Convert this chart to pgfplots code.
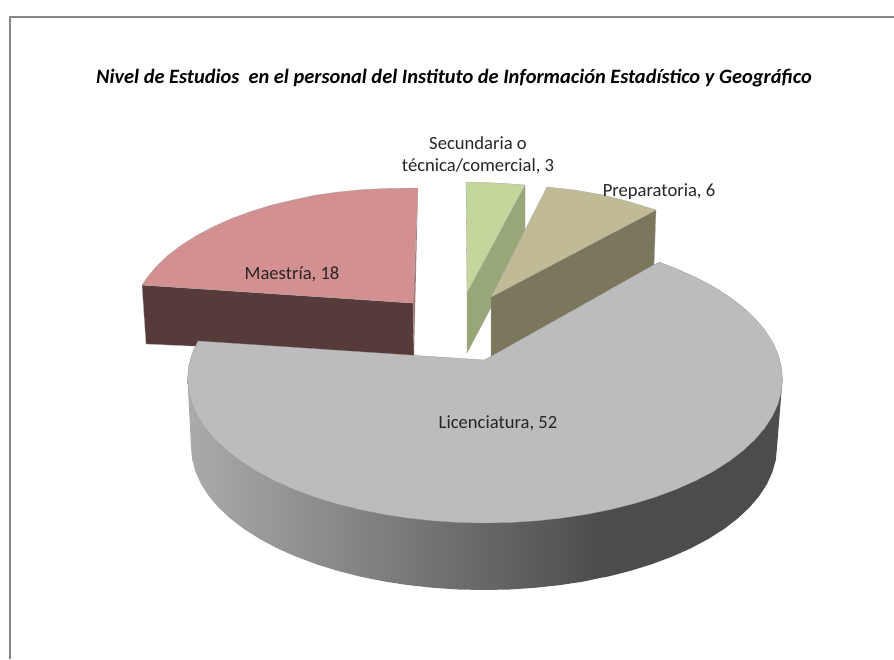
\documentclass[border=0pt]{standalone}
\usepackage{fontspec}
\setmainfont{Carlito}
\usepackage{pgfplots}
\pgfplotsset{compat=1.18}
\definecolor{frameg}{HTML}{868686}
\definecolor{grtop}{HTML}{BCBCBC}
\definecolor{mtop}{HTML}{D49090}
\definecolor{mside}{HTML}{573A3A}
\definecolor{msliv}{HTML}{A67C7C}
\definecolor{gtop}{HTML}{C3D69B}
\definecolor{gside}{HTML}{98A778}
\definecolor{ttop}{HTML}{C0BB94}
\definecolor{tside}{HTML}{7B775C}
\begin{document}
\begin{tikzpicture}
\begin{axis}[
  scale only axis, width=894pt, height=659pt,
  xmin=0, xmax=894, ymin=0, ymax=659, y dir=reverse,
  hide axis, clip=true,
]
% background and frame
\addplot[fill=white, draw=none] coordinates {(0,0)(894,0)(894,659)(0,659)} -- cycle;
\addplot[frameg, line width=1.6pt] coordinates {(10,659)(10,17)(894,17)};
% Maestria
\addplot[fill=msliv, draw=none] coordinates {(418,188)(413,303)(414,355)} -- cycle;
\addplot[fill=mside, draw=gray!60, line width=0.3pt] coordinates {(142,285)(413,303)(414,356)(146,344)} -- cycle;
\addplot[fill=mtop, draw=gray!70, line width=0.3pt] coordinates {(142,285)(147.9,276.5)(157.2,265.5)(168.5,255)(181.6,245)(196.5,235.6)(213,226.8)(231,218.8)(250.4,211.6)(271,205.2)(293,200)(315.2,195.2)(338,192)(362.4,189.6)(388,188.4)(418,188)(413,303)} -- cycle;
% Secundaria
\addplot[fill=gside, draw=gray!70, line width=0.3pt] coordinates {(525,185)(467,293)(467,353)(525,243)} -- cycle;
\addplot[fill=gtop, draw=gray!70, line width=0.3pt] coordinates {(466,182)(485,182.5)(505,183.5)(525,185)(467,293)} -- cycle;
% Preparatoria
\addplot[fill=tside, draw=gray!70, line width=0.3pt] coordinates {(656,210)(491,297)(491,357)(654,265)} -- cycle;
\addplot[fill=ttop, draw=gray!70, line width=0.3pt] coordinates {(547,187)(575,190)(603,195)(630,202)(656,210)(491,297)} -- cycle;
% Licenciatura side
\addplot[shade, left color=black!33, right color=black!70, draw=none] coordinates {(600,500)(187.5,379)(191,447)(192.1,459.5)(195.5,471.8)(201,484)(208.7,495.9)(218.5,507.4)(230.3,518.5)(244,529)(259.6,538.9)(276.8,548.1)(295.7,556.5)(315.9,564.1)(337.5,570.8)(360.2,576.6)(383.8,581.4)(408.2,585.1)(433.1,587.8)(458.5,589.5)(484,590)(509.5,589.5)(534.9,587.8)(559.8,585.1)(584.2,581.4)(600,578)} -- cycle;
\addplot[fill=black!70, draw=none] coordinates {(599.5,500)(782.5,379)(777,447)(775.9,459.5)(772.5,471.8)(767,484)(759.3,495.9)(749.5,507.4)(737.7,518.5)(724,529)(708.4,538.9)(691.2,548.1)(672.3,556.5)(652.1,564.1)(630.5,570.8)(607.8,576.6)(599.5,578)} -- cycle;
% Licenciatura top
\addplot[fill=grtop, draw=gray!80, line width=0.3pt] coordinates {(659,262)(676.2,268.7)(695.4,277.2)(712.9,286.4)(728.7,296.4)(742.6,307)(754.6,318.1)(764.6,329.8)(772.4,341.7)(778,354)(781.4,366.4)(782.5,379)(781.4,391.6)(778,404)(772.4,416.3)(764.6,428.2)(754.6,439.9)(742.6,451)(728.7,461.6)(712.9,471.6)(695.4,480.8)(676.2,489.3)(655.6,497)(633.8,503.7)(610.7,509.5)(586.7,514.3)(562,518.1)(536.6,520.8)(510.9,522.5)(485,523)(459.1,522.5)(433.4,520.8)(408,518.1)(383.3,514.3)(359.3,509.5)(336.2,503.7)(314.4,497)(293.8,489.3)(274.6,480.8)(257.1,471.6)(241.3,461.6)(227.4,451)(215.4,439.9)(205.4,428.2)(197.6,416.3)(192,404)(188.6,391.6)(187.5,379)(188.6,366.4)(192,354)(198,341)(484,360)(490,357)} -- cycle;
% Text
\node[font=\fontsize{20.4}{24}\selectfont\bfseries\itshape] at (axis cs:454,78) {Nivel de Estudios\ \ en el personal del Instituto de Información Estadístico y Geográfico};
\node[font=\fontsize{18.6}{22}\selectfont, text=black!85] at (axis cs:478,143) {Secundaria o};
\node[font=\fontsize{18.6}{22}\selectfont, text=black!85] at (axis cs:478,166) {técnica/comercial, 3};
\node[font=\fontsize{18.6}{22}\selectfont, text=black!85] at (axis cs:659,192) {Preparatoria, 6};
\node[font=\fontsize{18.6}{22}\selectfont, text=black!85] at (axis cs:292,274) {Maestría, 18};
\node[font=\fontsize{18.6}{22}\selectfont, text=black!85] at (axis cs:498,423) {Licenciatura, 52};
\end{axis}
\end{tikzpicture}
\end{document}
